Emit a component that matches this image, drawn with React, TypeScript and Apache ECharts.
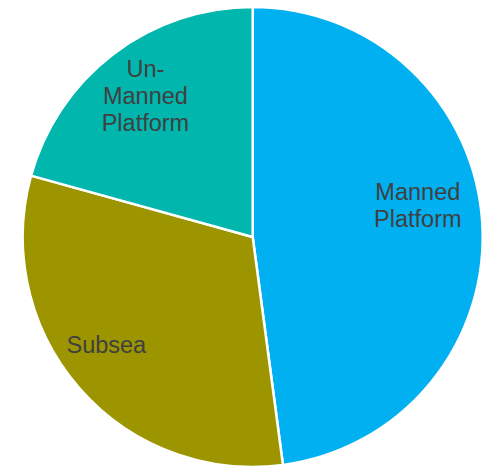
import React, { useEffect, useRef } from "react";
import * as echarts from "echarts";

const categories = ["Manned\nPlatform", "Subsea", "Un-\nManned\nPlatform"];
const values = [47.9, 31.4, 20.7];
const colors = ["#00B0F0", "#9C9500", "#00B6AD"];
const labelShift: number[][] = [[-10, -20], [-14, -7], [-1, -1]];

export default function App() {
  const ref = useRef<HTMLDivElement>(null);
  useEffect(() => {
    if (!ref.current) return;
    const chart = echarts.init(ref.current, undefined, { renderer: "svg" });
    const data = categories.map((name, i) => ({
      name,
      value: values[i],
      itemStyle: { color: colors[i] },
    }));
    chart.setOption({
      animation: false,
      backgroundColor: "#ffffff",
      series: [
        {
          type: "pie",
          center: [252.7, 237],
          radius: [0, 230],
          startAngle: 90,
          clockwise: true,
          silent: true,
          label: { show: false },
          labelLine: { show: false },
          itemStyle: { borderColor: "#ffffff", borderWidth: 2.5 },
          data,
        },
        {
          type: "pie",
          center: [252.7, 237],
          radius: [115, 230],
          startAngle: 90,
          clockwise: true,
          silent: true,
          itemStyle: { color: "transparent", borderWidth: 0 },
          label: {
            show: true,
            position: "inside",
            color: "#404040",
            fontFamily: "Liberation Sans, Arial, sans-serif",
            fontSize: 23.5,
            lineHeight: 27,
            align: "center",
          },
          labelLine: { show: false },
          labelLayout: (p: any) => ({
            dx: labelShift[p.dataIndex][0],
            dy: labelShift[p.dataIndex][1],
          }),
          data: categories.map((name, i) => ({
            name,
            value: values[i],
            itemStyle: { color: "transparent" },
          })),
        },
      ],
    });
    return () => chart.dispose();
  }, []);
  return (
    <div
      ref={ref}
      style={{ position: "fixed", left: 0, top: 0, width: 490, height: 467 }}
    />
  );
}
